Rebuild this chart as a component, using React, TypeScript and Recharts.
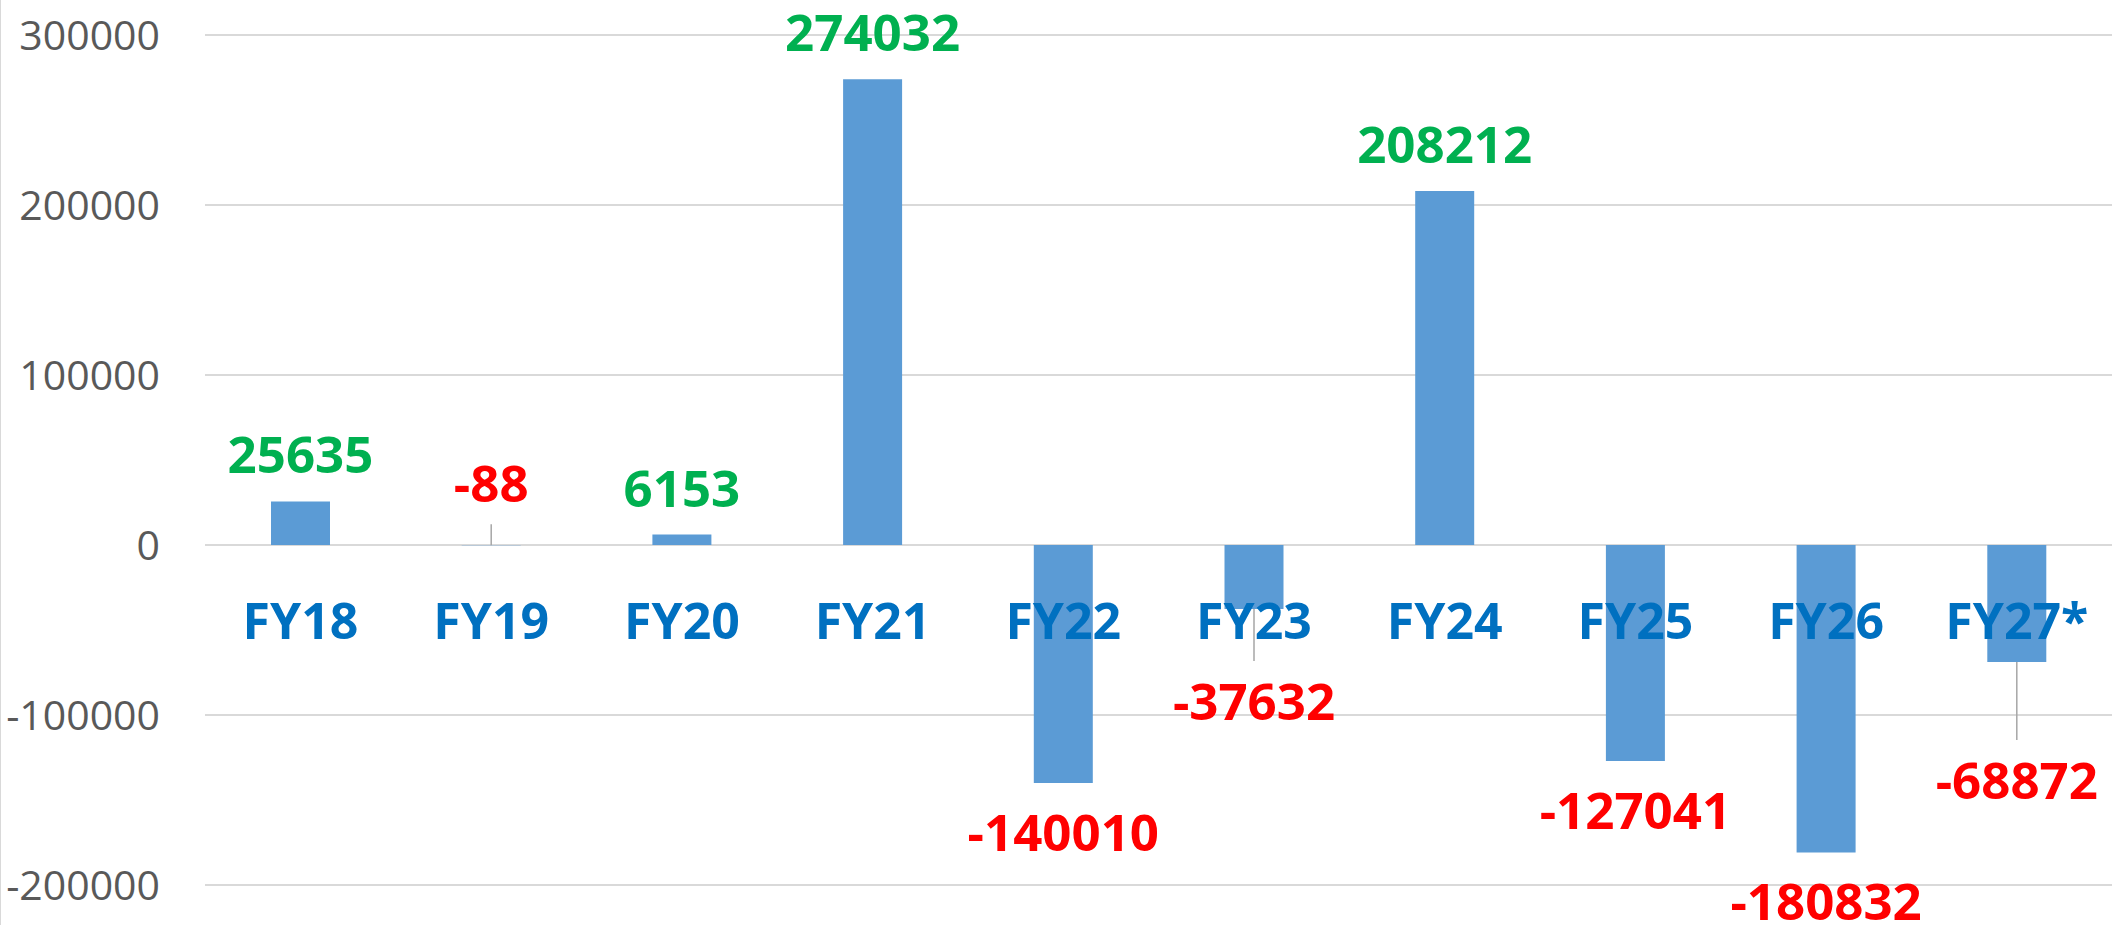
import React from "react";
import { BarChart, Bar, XAxis, YAxis, CartesianGrid, LabelList } from "recharts";

const categories = ["FY18", "FY19", "FY20", "FY21", "FY22", "FY23", "FY24", "FY25", "FY26", "FY27*"];
const values = [25635, -88, 6153, 274032, -140010, -37632, 208212, -127041, -180832, -68872];
const yTicks = [-200000, -100000, 0, 100000, 200000, 300000];

// labels that were dragged away from their bar in the original (px, + is down); they get a leader line
const labelShift = [0, -111, 0, 0, 0, 43, 0, 0, 0, 69];

const data = categories.map((name, i) => ({ name, value: values[i] }));

const FONT = "'Open Sans', 'Liberation Sans', sans-serif";

// zero line and value end of a bar, whatever sign the height comes with
const barGeom = (props: any) => {
  const vb = props.viewBox ?? props;
  const x = Number(vb.x ?? props.x);
  const y = Number(vb.y ?? props.y);
  const w = Number(vb.width ?? props.width);
  const h = Number(vb.height ?? props.height);
  const top = Math.min(y, y + h);
  const bottom = Math.max(y, y + h);
  return { cx: x + w / 2, top, bottom };
};

const CategoryLabel = (props: any) => {
  const { cx, top, bottom } = barGeom(props);
  const v = values[props.index] ?? 0;
  const zero = v >= 0 ? bottom : top;
  return (
    <text
      x={cx}
      y={zero + 94}
      textAnchor="middle"
      fill="#0070C0"
      fontFamily={FONT}
      fontWeight="bold"
      fontSize={50}
    >
      {props.value}
    </text>
  );
};

const ValueLabel = (props: any) => {
  const { cx, top, bottom } = barGeom(props);
  const v = Number(props.value);
  const shift = labelShift[props.index] ?? 0;
  const cap = 36;
  let baseline: number;
  let leader: [number, number] | null = null;
  if (v >= 0) {
    baseline = top - 28;
  } else {
    const end = bottom;
    const labelTop = end + 32 + shift;
    baseline = labelTop + cap;
    if (shift > 0) leader = [end, labelTop - 23];
    else if (shift < 0) leader = [baseline + 22, end];
  }
  return (
    <g>
      {leader && (
        <line x1={cx} x2={cx} y1={leader[0]} y2={leader[1]} stroke="#A6A6A6" strokeWidth={1.5} />
      )}
      <text
        x={cx}
        y={baseline}
        textAnchor="middle"
        fill={v >= 0 ? "#00B050" : "#FF0000"}
        fontFamily={FONT}
        fontWeight="bold"
        fontSize={51}
      >
        {v}
      </text>
    </g>
  );
};

export default function App() {
  return (
    <div style={{ position: "absolute", left: 0, top: 0, width: 2112, height: 925, background: "#fff" }}>
      <BarChart
        width={2112}
        height={925}
        data={data}
        margin={{ top: 35, right: 0, bottom: 40, left: 0 }}
      >
        <CartesianGrid vertical={false} stroke="#D9D9D9" strokeWidth={2} />
        <XAxis dataKey="name" hide />
        <YAxis
          type="number"
          domain={[-200000, 300000]}
          ticks={yTicks}
          width={205}
          axisLine={false}
          tickLine={false}
          tickSize={0}
          tickMargin={45}
          tick={{ fill: "#595959", fontSize: 41, fontFamily: FONT }}
          interval={0}
        />
        <Bar dataKey="value" fill="#5B9BD5" barSize={59} isAnimationActive={false}>
          <LabelList dataKey="name" content={<CategoryLabel />} />
          <LabelList dataKey="value" content={<ValueLabel />} />
        </Bar>
      </BarChart>
      <div
        style={{
          position: "absolute",
          left: 0,
          top: 0,
          width: 1,
          height: 925,
          background: "#D9D9D9",
          pointerEvents: "none",
        }}
      />
    </div>
  );
}
